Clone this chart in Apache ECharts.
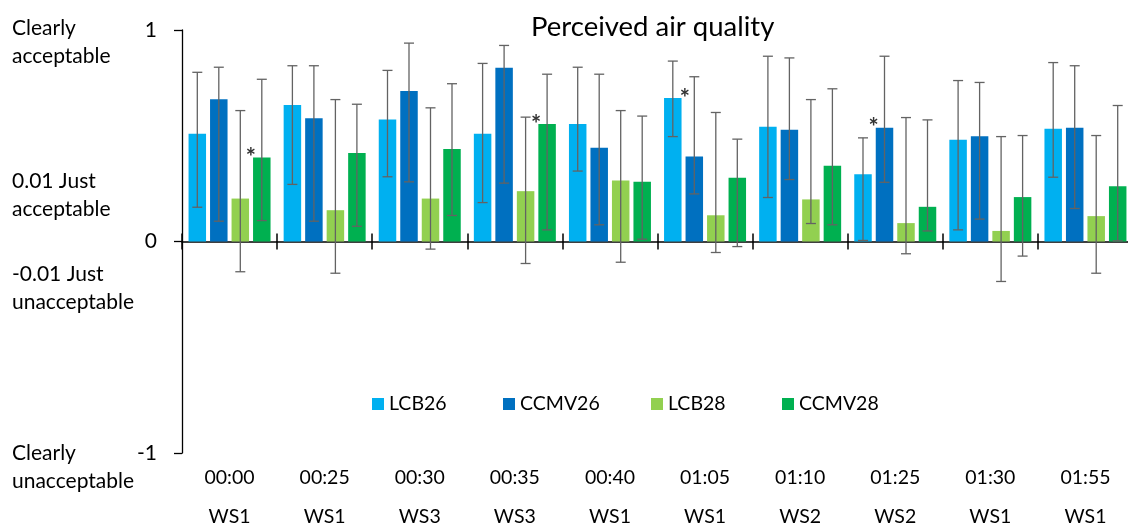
<!DOCTYPE html>
<html>
<head>
<meta charset="utf-8">
<script src="https://cdn.jsdelivr.net/npm/echarts@6/dist/echarts.min.js"></script>
<style>
  html, body { margin: 0; padding: 0; background: #fff; }
  #chart { width: 1128px; height: 525px; }
</style>
</head>
<body>
<div id="chart"></div>
<script>
// ---- data ----
const categories = ['00:00\nWS1', '00:25\nWS1', '00:30\nWS3', '00:35\nWS3', '00:40\nWS1',
                    '01:05\nWS1', '01:10\nWS2', '01:25\nWS2', '01:30\nWS1', '01:55\nWS1'];
const seriesNames = ['LCB26', 'CCMV26', 'LCB28', 'CCMV28'];

const lcb26      = [0.510, 0.645, 0.577, 0.509, 0.555, 0.679, 0.542, 0.318, 0.481, 0.533];
const lcb26Low   = [0.162, 0.270, 0.306, 0.184, 0.333, 0.496, 0.208, 0.005, 0.055, 0.304];
const lcb26High  = [0.800, 0.831, 0.809, 0.842, 0.824, 0.853, 0.876, 0.490, 0.761, 0.846];

const ccmv26     = [0.673, 0.583, 0.712, 0.821, 0.443, 0.402, 0.528, 0.538, 0.498, 0.538];
const ccmv26Low  = [0.096, 0.096, 0.282, 0.276, 0.079, 0.225, 0.293, 0.280, 0.106, 0.156];
const ccmv26High = [0.824, 0.831, 0.938, 0.927, 0.791, 0.779, 0.868, 0.876, 0.752, 0.831];

const lcb28      = [0.203, 0.148, 0.203, 0.238, 0.288, 0.124, 0.199, 0.087, 0.050, 0.120];
const lcb28Low   = [-0.143, -0.150, -0.036, -0.104, -0.098, -0.052, 0.085, -0.058, -0.189, -0.150];
const lcb28High  = [0.619, 0.671, 0.632, 0.588, 0.619, 0.610, 0.671, 0.586, 0.496, 0.501];

const ccmv28     = [0.397, 0.419, 0.437, 0.555, 0.282, 0.301, 0.358, 0.164, 0.210, 0.261];
const ccmv28Low  = [0.099, 0.072, 0.123, 0.055, 0.011, -0.024, 0.079, 0.050, -0.069, 0.003];
const ccmv28High = [0.767, 0.649, 0.746, 0.791, 0.593, 0.484, 0.722, 0.575, 0.501, 0.643];

// significance markers: [series index, category index]
const stars = [[3, 0], [3, 3], [0, 5], [1, 7]];

const yTickValues = [-1, 0, 1];
const yDescriptions = ['Clearly\nacceptable', '0.01 Just\nacceptable', '-0.01 Just\nunacceptable', 'Clearly\nunacceptable'];

// ---- styles ----
const colors = ['#00B0F0', '#0070C0', '#92D050', '#00B050'];
const BAR_W = 17.5, BAR_GAP_PX = 4;
const PITCH = BAR_W + BAR_GAP_PX;
const FONT = 'Lato, "Noto Sans", sans-serif';

const values = [lcb26, ccmv26, lcb28, ccmv28];
const lows = [lcb26Low, ccmv26Low, lcb28Low, ccmv28Low];
const highs = [lcb26High, ccmv26High, lcb28High, ccmv28High];

const chart = echarts.init(document.getElementById('chart'), null, { renderer: 'canvas' });

function starOffset(si) { return si === 0 ? [12, 13] : [-11, 13]; }

const barSeries = seriesNames.map((name, si) => ({
  name: name,
  type: 'bar',
  xAxisIndex: 0,
  yAxisIndex: 0,
  barWidth: BAR_W,
  barGap: (BAR_GAP_PX / BAR_W * 100) + '%',
  itemStyle: { color: colors[si] },
  label: { show: false },
  data: values[si].map((v, ci) => {
    const isStar = stars.some(s => s[0] === si && s[1] === ci);
    if (!isStar) return v;
    return {
      value: v,
      label: {
        show: true, position: 'top', formatter: '*', distance: 0,
        offset: starOffset(si), color: '#333', fontSize: 24, fontWeight: 'bold', fontFamily: FONT
      }
    };
  }),
  z: 2
}));

const errSeries = seriesNames.map((name, si) => ({
  name: 'err-' + name,
  type: 'custom',
  xAxisIndex: 0,
  yAxisIndex: 0,
  silent: true,
  z: 5,
  data: lows[si].map((lo, ci) => [ci, lo, highs[si][ci]]),
  renderItem: function (params, api) {
    const ci = api.value(0);
    const pLo = api.coord([ci, api.value(1)]);
    const pHi = api.coord([ci, api.value(2)]);
    const cx = pLo[0] + (si - 1.5) * PITCH;
    const half = 5;
    const st = { stroke: '#636363', lineWidth: 1.3 };
    return {
      type: 'group',
      children: [
        { type: 'line', shape: { x1: cx, y1: pHi[1], x2: cx, y2: pLo[1] }, style: st },
        { type: 'line', shape: { x1: cx - half, y1: pHi[1], x2: cx + half, y2: pHi[1] }, style: st },
        { type: 'line', shape: { x1: cx - half, y1: pLo[1], x2: cx + half, y2: pLo[1] }, style: st }
      ]
    };
  }
}));

const legendLefts = [372, 503, 651, 782];

const option = {
  animation: false,
  backgroundColor: '#fff',
  title: {
    text: 'Perceived air quality',
    left: 531, top: 13,
    padding: 0,
    textStyle: { fontFamily: FONT, fontSize: 27.5, fontWeight: 'normal', color: '#000' }
  },
  legend: seriesNames.map((n, i) => ({
    data: [n],
    left: legendLefts[i], top: 394,
    padding: 0,
    itemWidth: 12, itemHeight: 12, icon: 'rect',
    selectedMode: false,
    textStyle: { fontFamily: FONT, fontSize: 19.5, color: '#000' }
  })),
  grid: { left: 182, top: 30, width: 951, height: 423, containLabel: false, outerBoundsMode: 'none' },
  xAxis: [
    {
      type: 'category', data: categories, position: 'bottom',
      axisLine: { show: false, onZero: false },
      axisTick: { show: false },
      axisLabel: { fontFamily: FONT, fontSize: 19.5, color: '#000', lineHeight: 39, margin: 5, interval: 0 }
    },
    {
      type: 'category', data: categories, position: 'bottom',
      axisLine: { show: true, onZero: true, onZeroAxisIndex: 0, lineStyle: { color: '#000', width: 1.5 } },
      axisTick: { show: true, length: 8, lineStyle: { color: '#000', width: 1.5 } },
      axisLabel: { show: false }
    },
    {
      type: 'category', data: categories, position: 'bottom',
      axisLine: { show: false, onZero: true, onZeroAxisIndex: 1 },
      axisTick: { show: true, inside: true, length: 8, lineStyle: { color: '#000', width: 1.5 } },
      axisLabel: { show: false }
    }
  ],
  yAxis: [
    {
      type: 'value', min: yTickValues[0], max: yTickValues[2], interval: 1,
      axisLine: { show: true, lineStyle: { color: '#000', width: 1.3 } },
      axisTick: { show: true, length: 8, lineStyle: { color: '#000', width: 1.3 } },
      splitLine: { show: false },
      axisLabel: { fontFamily: FONT, fontSize: 21, color: '#000', margin: 25 }
    },
    { type: 'value', min: -1, max: 1, interval: 1, show: false }
  ],
  graphic: [
    { type: 'text', left: 12, top: 14, style: { text: yDescriptions[0], font: '21px ' + FONT, lineHeight: 28, fill: '#000' } },
    { type: 'text', left: 12, top: 167, style: { text: yDescriptions[1], font: '21px ' + FONT, lineHeight: 28, fill: '#000' } },
    { type: 'text', left: 12, top: 260, style: { text: yDescriptions[2], font: '21px ' + FONT, lineHeight: 28, fill: '#000' } },
    { type: 'text', left: 12, top: 439, style: { text: yDescriptions[3], font: '21px ' + FONT, lineHeight: 28, fill: '#000' } }
  ],
  series: barSeries.concat(errSeries)
};

chart.setOption(option);
</script>
</body>
</html>
